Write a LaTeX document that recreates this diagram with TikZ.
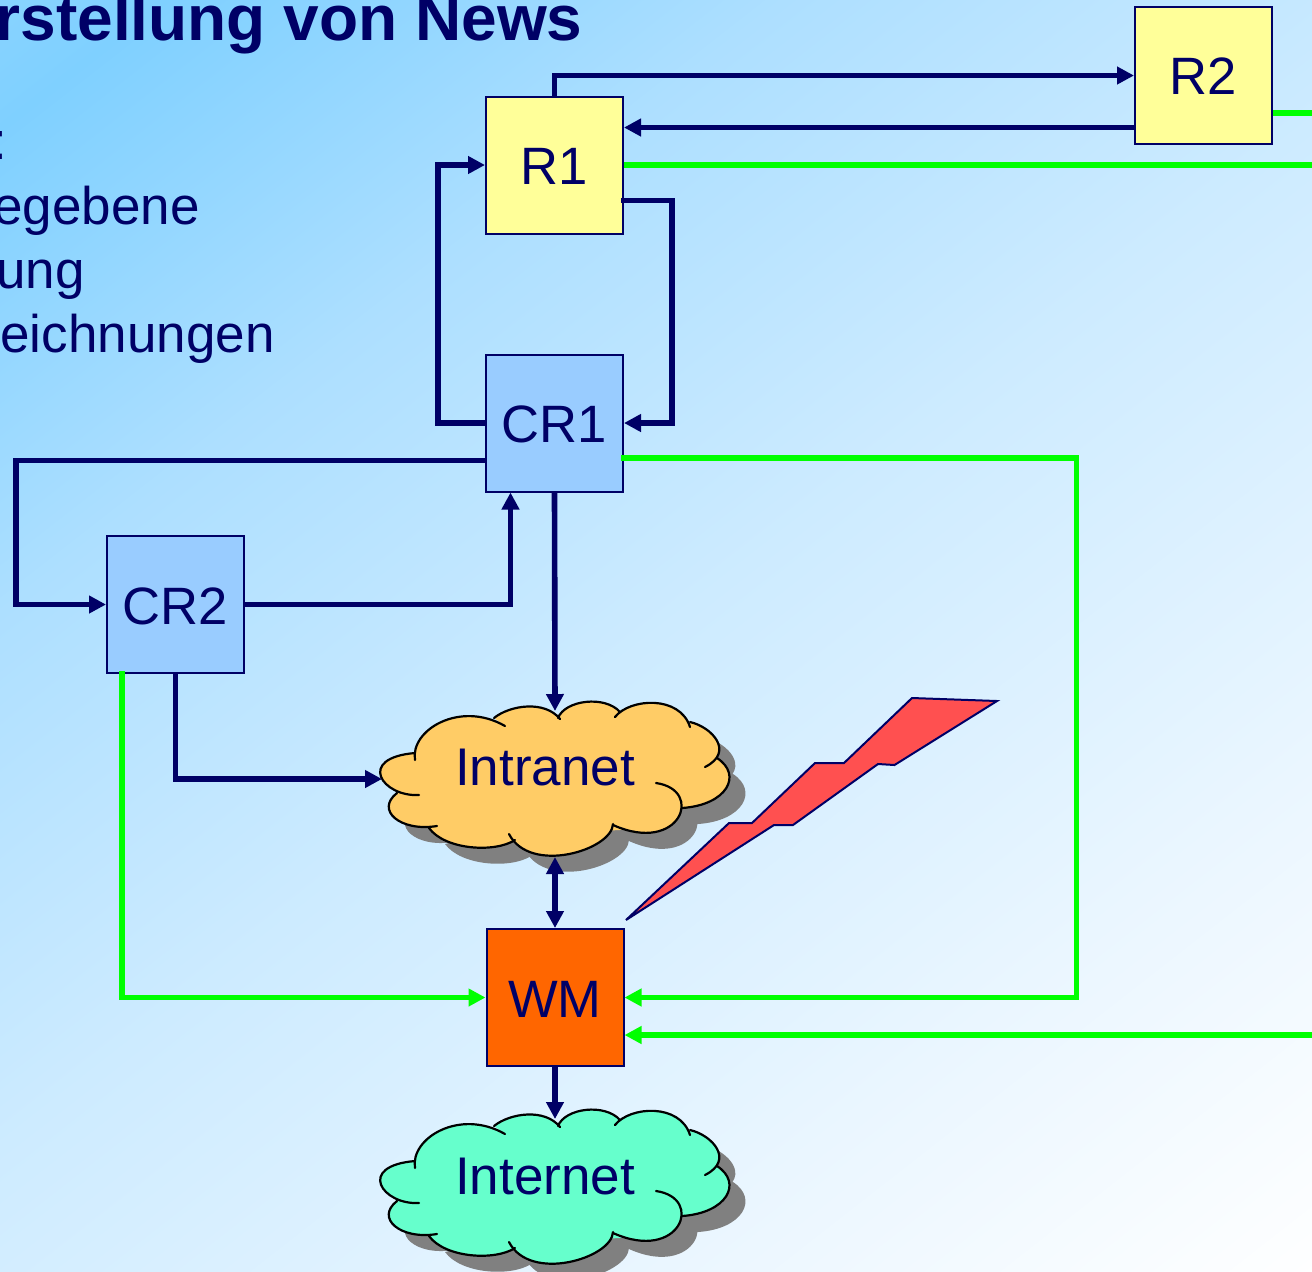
\documentclass[tikz,border=0pt]{standalone}
\usepackage{fontspec}
\setmainfont{Liberation Sans}
\usetikzlibrary{arrows.meta,calc}
\definecolor{navy}{HTML}{000066}
\definecolor{grn}{HTML}{00FF00}
\definecolor{rbox}{HTML}{FFFF99}
\definecolor{crbox}{HTML}{99CCFF}
\definecolor{wmbox}{HTML}{FF6600}
\definecolor{cloudA}{HTML}{FFCC66}
\definecolor{cloudB}{HTML}{66FFCC}
\definecolor{bolt}{HTML}{FF5050}
\definecolor{bgA}{HTML}{8AD4FF}
\definecolor{bgB}{HTML}{7FD0FF}
\definecolor{bgC}{HTML}{ADDFFF}
\definecolor{bgD}{HTML}{CDEBFF}
\definecolor{bgE}{HTML}{EAF6FF}
\pgfdeclarehorizontalshading{slidebg}{1000bp}{color(0bp)=(bgA); color(60bp)=(bgB); color(250bp)=(bgC); color(460bp)=(bgD); color(710bp)=(bgE); color(920bp)=(white)}
\newcommand{\cloudlobes}[1]{%
 #1 (415,760) .. controls (410,730) and (460,700) .. (505,726);
 #1 (494,718) .. controls (510,705) and (545,700) .. (560,719);
 #1 (558,718) .. controls (565,700) and (605,695) .. (620,712);
 #1 (615,717) .. controls (630,698) and (680,695) .. (690,727);
 #1 (690,722) .. controls (712,727) and (735,752) .. (705,767);
 #1 (717,758) .. controls (743,775) and (727,805) .. (682,808);
 #1 (656,783) .. controls (705,790) and (680,855) .. (613,825);
 #1 (613,824) .. controls (612,850) and (530,875) .. (509,834);
 #1 (515,840) .. controls (495,853) and (445,850) .. (429,828);
 #1 (437,826) .. controls (400,832) and (375,810) .. (397,793);
 #1 (419,795) .. controls (382,797) and (356,758) .. (415,753);
}
\newcommand{\cloudfillpath}{%
 (415,760) .. controls (410,730) and (460,700) .. (505,726)
 -- (494,718) .. controls (510,705) and (545,700) .. (560,719)
 -- (558,718) .. controls (565,700) and (605,695) .. (620,712)
 -- (615,717) .. controls (630,698) and (680,695) .. (690,727)
 -- (690,722) .. controls (712,727) and (735,752) .. (705,767)
 -- (717,758) .. controls (743,775) and (727,805) .. (682,808)
 -- (656,783) .. controls (705,790) and (680,855) .. (613,825)
 -- (613,824) .. controls (612,850) and (530,875) .. (509,834)
 -- (515,840) .. controls (495,853) and (445,850) .. (429,828)
 -- (437,826) .. controls (400,832) and (375,810) .. (397,793)
 -- (419,795) .. controls (382,797) and (356,758) .. (415,753) -- cycle}
\newcommand{\cloudshape}[1]{%
 \fill[black!50,shift={(16,16)}] \cloudfillpath;
 \fill[#1] \cloudfillpath;
 \fill[#1] (430,740) -- (690,730) -- (700,790) -- (620,830) -- (510,835) -- (420,810) -- cycle;
 \cloudlobes{\draw[black,line width=1.1pt,line cap=round]}
}
\newcommand{\boxlabel}[1]{\raisebox{-0.8pt}[\height][\depth]{#1}}
\tikzset{
 x=0.5pt,y=-0.5pt,
 boxnode/.style={draw=navy,line width=1pt,minimum size=68.5pt,inner sep=0pt,font=\fontsize{26.3}{30}\selectfont,text=navy},
 txt/.style={inner sep=0pt,text=navy,font=\fontsize{26.5}{30}\selectfont},
 navyline/.style={draw=navy,line width=2.8pt},
 navyarrow/.style={navyline,-{Triangle[length=8.5pt,width=8.5pt]}},
 navydouble/.style={navyline,{Triangle[length=8.5pt,width=8.5pt]}-{Triangle[length=8.5pt,width=8.5pt]}},
 grnline/.style={draw=grn,line width=2.6pt},
 grnarrow/.style={grnline,-{Triangle[length=8.5pt,width=8.5pt]}},
}
\begin{document}
\begin{tikzpicture}
\useasboundingbox (0,0) rectangle (1312,1271);
\clip (0,0) rectangle (1312,1271);
\node[inner sep=0pt,rotate=-52] (bg) at (656,635.5) {\pgfuseshading{slidebg}};

\node[txt,anchor=base east,font=\bfseries\fontsize{32}{36}\selectfont] (title) at (583,40) {rstellung von News};
\node[txt,anchor=base west] (t0) at (-7.5,159) {:};
\node[txt,anchor=base east] (t1) at (200,224) {egebene};
\node[txt,anchor=base east] (t2) at (85,288) {ung};
\node[txt,anchor=base east] (t3) at (275,352) {eichnungen};

\cloudshape{cloudA}
\begin{scope}[shift={(0,408)}]
\cloudshape{cloudB}
\end{scope}
\node[txt] (intranet) at (545,768) {Intranet};
\node[txt] (internet) at (545,1176.5) {Internet};

\node[boxnode,fill=rbox] (R1) at (554.5,165) {\boxlabel{R1}};
\node[boxnode,fill=rbox] (R2) at (1203.5,75) {\boxlabel{R2}};
\node[boxnode,fill=crbox] (CR1) at (554.5,423) {\boxlabel{CR1}};
\node[boxnode,fill=crbox] (CR2) at (175.5,604.5) {\boxlabel{CR2}};
\node[boxnode,fill=wmbox] (WM) at (555,997.5) {\boxlabel{WM}};

\coordinate (iTop) at (555,711);
\coordinate (iLeft) at (382,779);
\coordinate (iBot) at (555,857);
\coordinate (nTop) at (555,1119);
\coordinate (gR1) at (1312,165);
\coordinate (gR2) at (1312,113);
\coordinate (gWM) at (1312,1035);

% green
\draw[grnline] (R1.east) -- (gR1);
\draw[grnline] (R2.east |- gR2) -- (gR2);
\draw[grnarrow] ($(CR1.east)+(-3,35)$) -| ($(WM.east)+(452,0)$) -- (WM.east);
\draw[grnarrow] (gWM) -- (WM.east |- gWM);
\draw[grnarrow] ($(CR2.south west)+(16,-3)$) |- (WM.west);

% navy
\draw[navyarrow] (R1.north) |- ($(R2.west)+(0,0.5)$);
\draw[navyarrow] ($(R2.west)+(0,52.5)$) -- ($(R1.east)+(0,-37.5)$);
\draw[navyarrow] ($(R1.east)+(-3,35.5)$) -| ($(CR1.east)+(48,0)$) -- (CR1.east);
\draw[navyarrow] (CR1.west) -| ($(R1.west)+(-47,0)$) -- (R1.west);
\draw[navyarrow] ($(CR1.west)+(0,37.5)$) -| ($(CR2.west)+(-90,0)$) -- (CR2.west);
\draw[navyarrow] (CR2.east) -| ($(CR1.south)+(-44,0)$);
\draw[navyarrow] (CR1.south) -- (iTop);
\draw[navyarrow] (CR2.south) |- (iLeft);
\draw[navydouble] (iBot) -- (WM.north);
\draw[navyarrow] (WM.south) -- (nTop);

\draw[draw=navy,fill=bolt,line width=1pt,line join=miter] (626,920) -- (729,823) -- (752,823) -- (815,763) -- (844,763) -- (912,698) -- (997,701) -- (894.5,765) -- (878,764) -- (793,825) -- (774,825) -- cycle;
\end{tikzpicture}
\end{document}
